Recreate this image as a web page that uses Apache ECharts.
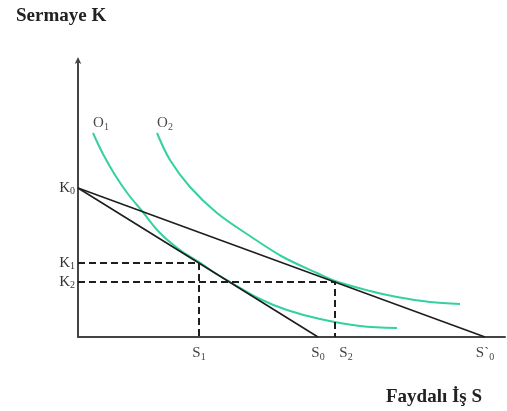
<!DOCTYPE html>
<html>
<head>
<meta charset="utf-8">
<script src="https://cdn.jsdelivr.net/npm/echarts@6/dist/echarts.min.js"></script>
<style>html,body{margin:0;padding:0;background:#fff}#c{width:507px;height:411px}</style>
</head>
<body>
<div id="c"></div>
<script>
// Axis marks (capital K on the vertical axis, useful work S on the horizontal)
const kTicks = [149, 74, 55];          // K0, K1, K2
const kNames = ['0', '1', '2'];
const sTicks = [121, 240, 257, 407];   // S1, S0, S2, S'0
const sNames = ['1', '0', '2', '0'];
const sPrime = [false, false, false, true];

// Budget lines: K0 -> S0 and K0 -> S'0
const budget0 = [[0, 149], [240, 0]];
const budget1 = [[0, 149], [407, 0]];

// Indifference curves
const curveO1 = [[15, 204], [25, 183], [37, 162], [50, 143], [64, 126], [82, 104], [102, 87], [121, 75], [137, 64], [152, 55], [182, 38], [209, 27], [242, 18], [282, 11], [319, 9]];
const curveO2 = [[79, 204], [92, 177], [112, 150], [139, 124], [172, 101], [205, 80], [239, 64], [257, 56], [292, 46], [319, 40], [352, 35], [382, 33]];
const curveNames = ['1', '2'];

// Guides to the tangency points
const guide1 = [[0, 74], [121, 74], [121, 0]];
const guide2 = [[0, 55], [257, 55], [257, 0]];

const serif = 'Liberation Serif';
const green = '#33d1a2';
const ink = '#1e1e1e';

const chart = echarts.init(document.getElementById('c'), null, { renderer: 'canvas' });

function lineSeries(data, color, width, dashed, z) {
  return {
    type: 'line', data, showSymbol: false, symbol: 'none', z,
    lineStyle: { color, width, type: dashed ? [7, 4] : 'solid' },
    animation: false, silent: true
  };
}

function curveSeries(data) {
  return {
    type: 'line', smooth: 0.35, symbol: 'none', z: 2,
    lineStyle: { color: green, width: 2 },
    animation: false, silent: true, data
  };
}

// Curve names sit just above each curve's upper end
const curveTags = {
  type: 'scatter', symbolSize: 0, z: 4, animation: false, silent: true,
  data: [curveO1[0], curveO2[0]].map((p, i) => ({ value: p, name: curveNames[i] })),
  label: {
    show: true, position: 'top', distance: 1, offset: [8, 0],
    formatter: (p) => '{a|O}{b|' + p.name + '}',
    rich: {
      a: { fontFamily: serif, fontSize: 15, color: '#1a1a1a' },
      b: { fontFamily: serif, fontSize: 10, color: '#1a1a1a', padding: [7, 0, 0, 0] }
    }
  }
};

chart.setOption({
  animation: false,
  title: [
    { text: 'Sermaye K', left: 11, top: 2,
      textStyle: { fontFamily: serif, fontSize: 19, fontWeight: 'bold', color: '#222' } },
    { text: 'Faydalı İş S', left: 381, top: 383,
      textStyle: { fontFamily: serif, fontSize: 19, fontWeight: 'bold', color: '#222' } }
  ],
  grid: { left: 78, right: 2, top: 60, bottom: 74, containLabel: false },
  xAxis: {
    type: 'value', min: 0, max: 427,
    splitLine: { show: false },
    axisTick: { show: false },
    axisLine: { lineStyle: { color: '#444', width: 2 } },
    axisLabel: {
      customValues: sTicks,
      margin: 8,
      formatter: function (v) {
        const i = sTicks.indexOf(v);
        if (i < 0) return '';
        const head = sPrime[i] ? '{p|S`}' : (i === 2 ? '{q|S}' : '{a|S}');
        return head + '{b|' + sNames[i] + '}';
      },
      rich: {
        a: { fontFamily: serif, fontSize: 15, color: '#444' },
        q: { fontFamily: serif, fontSize: 15, color: '#444', padding: [0, 0, 0, 22] },
        p: { fontFamily: serif, fontSize: 15, color: '#444' },
        b: { fontFamily: serif, fontSize: 10, color: '#444', padding: [7, 0, 0, 0] }
      }
    }
  },
  yAxis: {
    type: 'value', min: 0, max: 277,
    splitLine: { show: false },
    axisTick: { show: false },
    axisLine: { symbol: ['none', 'arrow'], symbolSize: [5, 7], symbolOffset: [0, 3],
      lineStyle: { color: '#444', width: 2 } },
    axisLabel: {
      customValues: kTicks,
      margin: 3,
      formatter: function (v) {
        const i = kTicks.indexOf(v);
        if (i < 0) return '';
        return '{a|K}{b|' + kNames[i] + '}';
      },
      rich: {
        a: { fontFamily: serif, fontSize: 15, color: '#333' },
        b: { fontFamily: serif, fontSize: 10, color: '#333', padding: [7, 0, 0, 0] }
      }
    }
  },
  series: [
    curveSeries(curveO1),
    curveSeries(curveO2),
    lineSeries(budget0, ink, 1.6, false, 3),
    lineSeries(budget1, ink, 1.6, false, 3),
    lineSeries(guide1, ink, 2, true, 3),
    lineSeries(guide2, ink, 2, true, 3),
    curveTags
  ]
});
</script>
</body>
</html>
